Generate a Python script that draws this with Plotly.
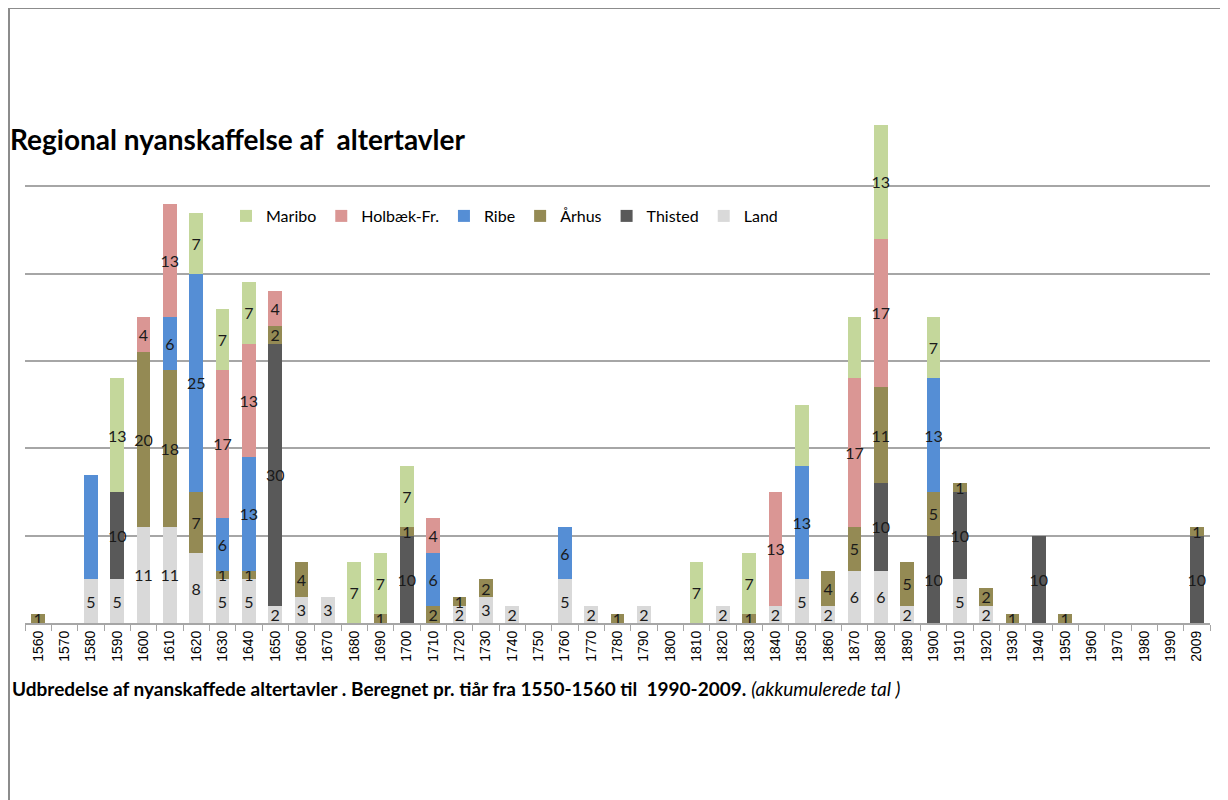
import plotly.graph_objects as go

decades = [str(y) for y in range(1560, 2000, 10)] + ["2009"]

#            1560..1650                     1660..1750                  1760..1850                   1860..1950                   1960..1990,2009
land    = [0,0,5,5,11,11,8,5,5,2,       3,3,0,0,0,0,2,3,2,0,       5,2,0,2,0,0,2,0,2,5,        2,6,6,2,0,5,2,0,0,0,        0,0,0,0,0]
thisted = [0,0,0,10,0,0,0,0,0,30,       0,0,0,0,10,0,0,0,0,0,      0,0,0,0,0,0,0,0,0,0,        0,0,10,0,10,10,0,0,10,0,    0,0,0,0,10]
aarhus  = [1,0,0,0,20,18,7,1,1,2,       4,0,0,1,1,2,1,2,0,0,       0,0,1,0,0,0,0,1,0,0,        4,5,11,5,5,1,2,1,0,1,       0,0,0,0,1]
ribe    = [0,0,12,0,0,6,25,6,13,0,      0,0,0,0,0,6,0,0,0,0,       6,0,0,0,0,0,0,0,0,13,       0,0,0,0,13,0,0,0,0,0,       0,0,0,0,0]
holbaek = [0,0,0,0,4,13,0,17,13,4,      0,0,0,0,0,4,0,0,0,0,       0,0,0,0,0,0,0,0,13,0,       0,17,17,0,0,0,0,0,0,0,      0,0,0,0,0]
maribo  = [0,0,0,13,0,0,7,7,7,0,        0,0,7,7,7,0,0,0,0,0,       0,0,0,0,0,7,0,7,0,7,        0,7,13,0,7,0,0,0,0,0,       0,0,0,0,0]

# segments that carry no data label in the reference
unlabelled = {("Ribe", "1580"), ("Maribo", "1850"), ("Maribo", "1870")}

series = [
    ("Land", land, "#d9d9d9"),
    ("Thisted", thisted, "#595959"),
    ("Århus", aarhus, "#948a54"),
    ("Ribe", ribe, "#558ed5"),
    ("Holbæk-Fr.", holbaek, "#da9694"),
    ("Maribo", maribo, "#c4d79b"),
]

fig = go.Figure()
for name, vals, col in series:
    txt = [("" if (v == 0 or (name, d) in unlabelled) else str(v)) for v, d in zip(vals, decades)]
    fig.add_trace(go.Bar(
        name=name, x=decades, y=vals, marker=dict(color=col, line=dict(width=0)),
        text=txt, textposition="inside", insidetextanchor="middle", textangle=0,
        constraintext="none", texttemplate="%{text}",
        textfont=dict(family="Lato", size=16, color="#1a1a1a"),
        hoverinfo="x+y+name",
    ))

# page body adds an 8px offset; all coordinates below are screen pixels
OFF = 8
FW, FH = 1228 - OFF, 800 - OFF
W0, W1, Y0, Y1 = 25, 1210, 623, 99
def px(x):
    return (x - W0) / (W1 - W0)
def py(y):
    return (Y0 - y) / (Y0 - Y1)

fig.update_layout(
    width=FW, height=FH,
    barmode="stack", bargap=0.48,
    paper_bgcolor="white", plot_bgcolor="white",
    margin=dict(l=W0 - OFF, r=FW - (W1 - OFF), t=Y1 - OFF, b=FH - (Y0 - OFF)),
    font=dict(family="Lato", color="#000000"),
    showlegend=True,
    legend=dict(orientation="h", traceorder="reversed", x=px(226), y=py(216),
                xanchor="left", yanchor="middle", font=dict(size=16, family="Lato"),
                bgcolor="rgba(0,0,0,0)", itemclick=False, itemwidth=30),
    title=dict(text="<b>Regional nyanskaffelse af  altertavler</b>", xref="container", yref="container",
               x=(10 - OFF) / FW, y=1 - (140 - OFF) / FH, xanchor="left", yanchor="middle",
               pad=dict(l=0, r=0, t=0, b=0),
               font=dict(family="Lato", size=28, color="#000000")),
    xaxis=dict(type="category", tickangle=-90, ticks="outside", tickson="boundaries", ticklen=6,
               tickcolor="#a6a6a6", showline=True, linecolor="#a6a6a6", linewidth=2,
               tickfont=dict(family="Liberation Sans", size=14, color="#000000"), showgrid=False),
    yaxis=dict(range=[0, 60], dtick=10, showticklabels=False, showgrid=True,
               gridcolor="#a6a6a6", gridwidth=2, zeroline=False, showline=False, ticks=""),
    annotations=[dict(
        text="<b>Udbredelse af nyanskaffede altertavler . Beregnet pr. tiår fra 1550-1560 til  1990-2009.</b> <i>(akkumulerede tal )</i>",
        xref="paper", yref="paper", x=px(10), y=py(688), xanchor="left", yanchor="middle",
        showarrow=False, font=dict(family="Lato", size=19, color="#000000"))],
    shapes=[
        dict(type="line", xref="paper", yref="paper", x0=px(8), x1=px(1228), y0=py(8), y1=py(8),
             line=dict(color="#8c8c8c", width=2)),
        dict(type="line", xref="paper", yref="paper", x0=px(9), x1=px(9), y0=py(8), y1=py(800),
             line=dict(color="#8c8c8c", width=2)),
    ],
)

fig.write_html("out.html")
